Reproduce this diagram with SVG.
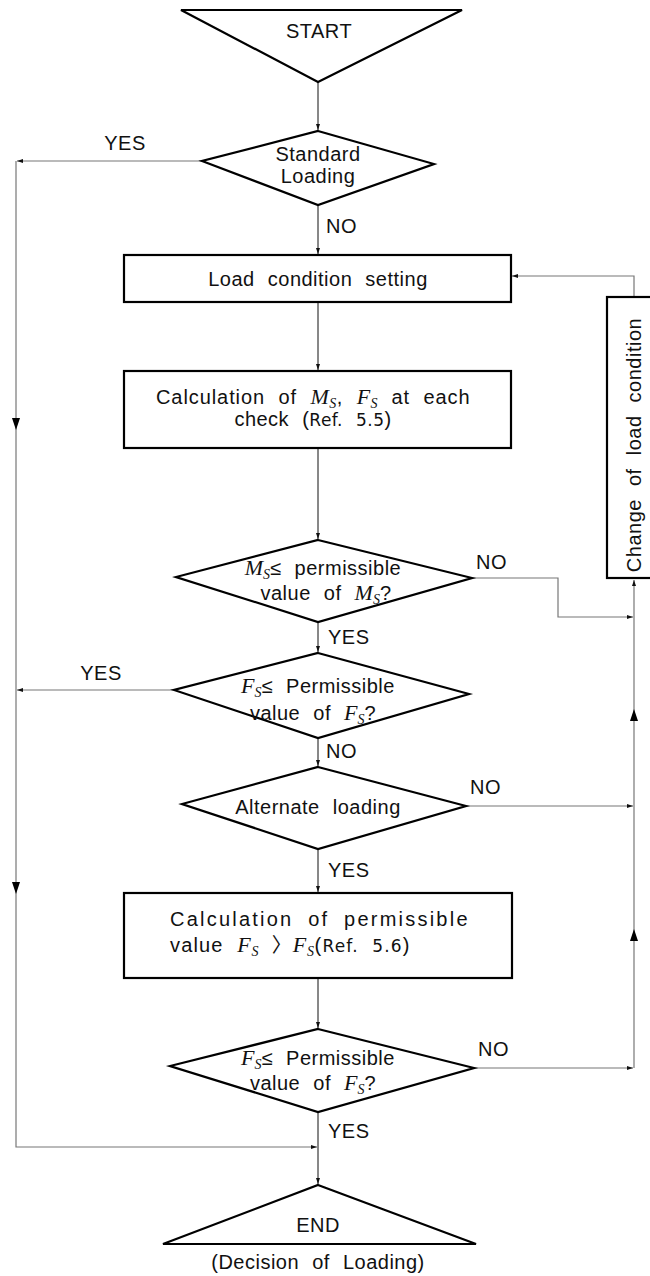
<svg xmlns="http://www.w3.org/2000/svg" width="650" height="1276" viewBox="0 0 650 1276">
<style>
text{font-family:"Liberation Sans",Arial,sans-serif;font-size:20px;fill:#111;letter-spacing:0.5px;word-spacing:7px}
.c{text-anchor:middle}
.shape{fill:#fff;stroke:#000;stroke-width:2.2}
.flow{fill:none;stroke:#111;stroke-width:1}
.side{fill:none;stroke:#777;stroke-width:1.2}
.m{font-family:"Liberation Serif","Times New Roman",serif;font-style:italic;font-size:22px;letter-spacing:0}
.sub{font-size:14px}
.ref{font-family:"DejaVu Sans",sans-serif;font-size:17px;letter-spacing:0.5px}
</style>
<defs>
<marker id="ah" markerWidth="7" markerHeight="5" refX="6" refY="2.5" orient="auto" markerUnits="userSpaceOnUse">
<path d="M0,0.5 L6,2.5 L0,4.5 z" fill="#111"/>
</marker>
<path id="bigDown" d="M-4,-6 L4,-6 L0,6 z" fill="#000"/>
<path id="bigUp" d="M-4,6 L4,6 L0,-6 z" fill="#000"/>
</defs>

<g id="connectors">
<path class="flow" d="M318,82 V130" marker-end="url(#ah)"/>
<path class="flow" d="M318,205 V254" marker-end="url(#ah)"/>
<path class="side" d="M202,161 H17" marker-end="url(#ah)"/>
<path class="side" d="M16,161 V1147 H317" marker-end="url(#ah)"/>
<use href="#bigDown" x="16" y="424"/>
<use href="#bigDown" x="16" y="888"/>
<path class="flow" d="M318,302 V370" marker-end="url(#ah)"/>
<path class="flow" d="M318,448 V539" marker-end="url(#ah)"/>
<path class="side" d="M472,578 H558 V617 H633" marker-end="url(#ah)"/>
<path class="flow" d="M318,622 V652" marker-end="url(#ah)"/>
<path class="side" d="M174,690 H17" marker-end="url(#ah)"/>
<path class="flow" d="M318,738 V766" marker-end="url(#ah)"/>
<path class="side" d="M466,806 H633" marker-end="url(#ah)"/>
<path class="flow" d="M318,849 V892" marker-end="url(#ah)"/>
<path class="flow" d="M318,978 V1028" marker-end="url(#ah)"/>
<path class="side" d="M474,1068 H633" marker-end="url(#ah)"/>
<path class="flow" d="M318,1112 V1184" marker-end="url(#ah)"/>
<path class="side" d="M634,1068 V580" marker-end="url(#ah)"/>
<use href="#bigUp" x="634" y="715"/>
<use href="#bigUp" x="634" y="935"/>
<path class="side" d="M634,297 V276 H512" marker-end="url(#ah)"/>
<text x="125" y="150" class="c">YES</text>
<text x="326" y="233">NO</text>
<text x="476" y="569">NO</text>
<text x="328" y="644">YES</text>
<text x="101" y="680" class="c">YES</text>
<text x="326" y="758">NO</text>
<text x="470" y="794">NO</text>
<text x="328" y="877">YES</text>
<text x="478" y="1056">NO</text>
<text x="328" y="1138">YES</text>
</g>

<g id="start">
<polygon class="shape" points="181,10 462,10 318,82"/>
<text x="319" y="38" class="c">START</text>
</g>

<g id="standard-loading">
<polygon class="shape" points="318,131 434,164 318,205 202,161"/>
<text x="318" y="161" class="c">Standard</text>
<text x="318" y="183" class="c">Loading</text>
</g>

<g id="load-condition-setting">
<rect class="shape" x="124" y="255" width="387" height="47"/>
<text x="318" y="286" class="c">Load condition setting</text>
</g>

<g id="change-load-condition">
<rect class="shape" x="607" y="297" width="60" height="281"/>
<text x="0" y="0" class="c" transform="translate(641,445) rotate(-90)">Change of load condition</text>
</g>

<g id="calc-ms-fs">
<rect class="shape" x="124" y="371" width="387" height="77"/>
<text x="156" y="404" textLength="314" lengthAdjust="spacing">Calculation of <tspan class="m">M<tspan class="sub" dy="4">S</tspan></tspan><tspan dy="-4">, </tspan><tspan class="m">F<tspan class="sub" dy="4">S</tspan></tspan><tspan dy="-4"> at each</tspan></text>
<text x="313" y="426" class="c">check (<tspan class="ref">Ref. 5.5</tspan>)</text>
</g>

<g id="ms-check">
<polygon class="shape" points="318,540 472,578 318,622 176,577"/>
<text x="323" y="575" class="c"><tspan class="m">M<tspan class="sub" dy="4">S</tspan></tspan><tspan dy="-4">≤ permissible</tspan></text>
<text x="326" y="600" class="c">value of <tspan class="m">M<tspan class="sub" dy="4">S</tspan></tspan><tspan dy="-4">?</tspan></text>
</g>

<g id="fs-check-1">
<polygon class="shape" points="318,653 469,694 318,738 174,690"/>
<text x="318" y="693" class="c"><tspan class="m">F<tspan class="sub" dy="4">S</tspan></tspan><tspan dy="-4">≤ Permissible</tspan></text>
<text x="313" y="720" class="c">value of <tspan class="m">F<tspan class="sub" dy="4">S</tspan></tspan><tspan dy="-4">?</tspan></text>
</g>

<g id="alternate-loading">
<polygon class="shape" points="318,767 466,806 318,849 182,804"/>
<text x="318" y="814" class="c">Alternate loading</text>
</g>

<g id="calc-permissible">
<rect class="shape" x="124" y="893" width="388" height="85"/>
<text x="170" y="926" textLength="298" lengthAdjust="spacing">Calculation of permissible</text>
<text x="170" y="952" textLength="240" lengthAdjust="spacing">value <tspan class="m">F<tspan class="sub" dy="4">S</tspan></tspan><tspan dy="-4" font-family="Noto Sans CJK KR,sans-serif"> 〉</tspan><tspan class="m">F<tspan class="sub" dy="4">S</tspan></tspan><tspan dy="-4">(</tspan><tspan class="ref">Ref. 5.6</tspan>)</text>
</g>

<g id="fs-check-2">
<polygon class="shape" points="318,1029 474,1068 318,1112 170,1066"/>
<text x="318" y="1065" class="c"><tspan class="m">F<tspan class="sub" dy="4">S</tspan></tspan><tspan dy="-4">≤ Permissible</tspan></text>
<text x="313" y="1090" class="c">value of <tspan class="m">F<tspan class="sub" dy="4">S</tspan></tspan><tspan dy="-4">?</tspan></text>
</g>

<g id="end">
<polygon class="shape" points="318,1185 476,1244 163,1244"/>
<text x="318" y="1232" class="c">END</text>
<text x="318" y="1269" class="c">(Decision of Loading)</text>
</g>
</svg>
